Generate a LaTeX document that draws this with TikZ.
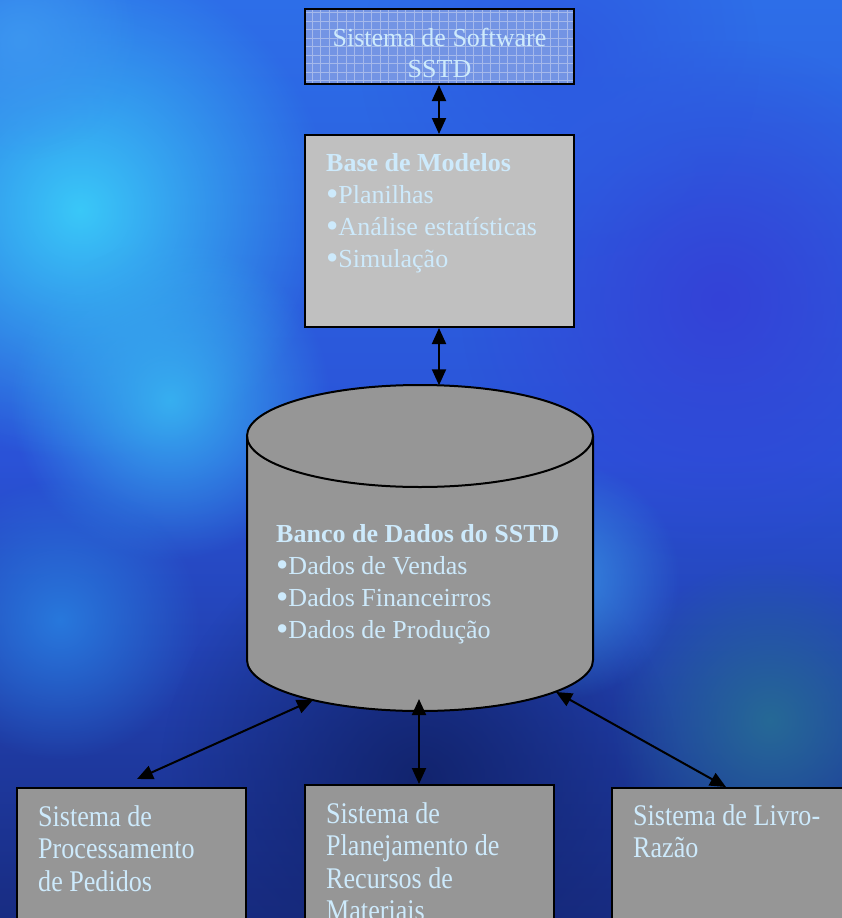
\documentclass[tikz,border=0pt]{standalone}
\usepackage{fontspec}
\setmainfont{Liberation Serif}
\newfontfamily\condfont[FakeStretch=0.87]{Liberation Serif}
\usetikzlibrary{arrows.meta,fadings}
\tikzfading[name=fuzzy, inner color=transparent!0, outer color=transparent!100]
\definecolor{txt}{RGB}{205,234,252}
\definecolor{swfill}{RGB}{115,148,228}
\definecolor{swgrid}{RGB}{165,185,235}
\definecolor{bmfill}{RGB}{192,192,192}
\definecolor{dbfill}{RGB}{150,150,150}
\definecolor{sysfill}{RGB}{150,150,150}
\newcommand{\bul}{\raisebox{-0.1em}{\scalebox{1.35}{•}}}
\begin{document}
\begin{tikzpicture}[x=1pt,y=-1pt,
  boxstyle/.style={draw=black, line width=2pt, inner sep=0pt},
  txtnode/.style={text=txt, inner sep=0pt, align=left, font=\fontsize{26}{32}\selectfont},
  systxt/.style={text=txt, inner sep=0pt, align=left, font=\condfont\fontsize{30}{32.5}\selectfont},
  biarrow/.style={{Triangle[length=16pt,width=14pt]}-{Triangle[length=16pt,width=14pt]}, line width=2pt, draw=black},
  blob/.style={path fading=fuzzy}
]
\useasboundingbox (0,0) rectangle (842,918);
\clip (0,0) rectangle (842,918);
% background
\shade[top color={rgb,255:red,45;green,110;blue,232}, bottom color={rgb,255:red,24;green,44;blue,130}, middle color={rgb,255:red,42;green,82;blue,215}] (0,0) rectangle (842,918);
\fill[blob, color={rgb,255:red,58;green,200;blue,248}] (80,210) circle[radius=250];
\fill[blob, color={rgb,255:red,55;green,175;blue,240}] (170,400) circle[radius=160];
\fill[blob, color={rgb,255:red,60;green,150;blue,240}] (20,40) circle[radius=120];
\fill[blob, color={rgb,255:red,52;green,66;blue,215}] (720,300) circle[radius=260];
\fill[blob, color={rgb,255:red,45;green,90;blue,225}] (560,60) circle[radius=200];
\fill[blob, color={rgb,255:red,18;green,36;blue,110}] (420,780) circle[radius=260];
\fill[blob, color={rgb,255:red,38;green,105;blue,150}] (770,720) circle[radius=160];
\fill[blob, color={rgb,255:red,55;green,140;blue,225}] (560,580) circle[radius=120];
\fill[blob, color={rgb,255:red,40;green,120;blue,220}] (60,620) circle[radius=140];

% top box: Sistema de Software
\node[boxstyle, fill=swfill, minimum width=269pt, minimum height=75pt,
  path picture={\draw[swgrid, line width=0.6pt, step=8.5pt] (path picture bounding box.south west) grid (path picture bounding box.north east);}]
  (sw) at (439.5,46.5) {};
\node[txtnode, align=center, anchor=base, font=\fontsize{26}{31}\selectfont] (swtext) at (439.5,77) {Sistema de Software\\SSTD};

% Base de Modelos
\node[boxstyle, fill=bmfill, minimum width=269pt, minimum height=192pt] (bm) at (439.5,231) {};
\node[txtnode, anchor=base west] (bmtext) at (326,267) {\textbf{Base de Modelos}\\\bul Planilhas\\\bul Análise estatísticas\\\bul Simulação};

% Cylinder: Banco de Dados
\fill[dbfill] (247,436) -- (247,660) arc[start angle=180, end angle=0, x radius=173, y radius=51] -- (593,436) arc[start angle=0, end angle=-180, x radius=173, y radius=51] -- cycle;
\draw[line width=2pt] (247,436) -- (247,660) arc[start angle=180, end angle=0, x radius=173, y radius=51] -- (593,436);
\draw[line width=2pt] (420,436) ellipse[x radius=173, y radius=51];
\coordinate (dbtop) at (439,385.3);
\coordinate (dbl) at (313,700);
\coordinate (dbm) at (419,699);
\coordinate (dbr) at (556,692);
\node[txtnode, anchor=base west] (dbtext) at (276,638) {\textbf{Banco de Dados do SSTD}\\\bul Dados de Vendas\\\bul Dados Financeirros\\\bul Dados de Produção};

% bottom systems
\node[boxstyle, fill=sysfill, minimum width=229pt, minimum height=170pt] (s1) at (131.5,873) {};
\node[boxstyle, fill=sysfill, minimum width=249pt, minimum height=170pt] (s2) at (429.5,870) {};
\node[boxstyle, fill=sysfill, minimum width=250pt, minimum height=170pt] (s3) at (737,873) {};
\node[systxt, anchor=base west] (s1text) at (38,891) {Sistema de\\Processamento\\de Pedidos};
\node[systxt, anchor=base west] (s2text) at (326,920.5) {Sistema de\\Planejamento de\\Recursos de\\Materiais};
\node[systxt, anchor=base west] (s3text) at (633,857.5) {Sistema de Livro-\\Razão};
\coordinate (s1end) at (137,779);
\coordinate (s3end) at (726,787);

% connectors
\draw[biarrow] (sw.south -| dbtop) -- (bm.north -| dbtop);
\draw[biarrow] (bm.south -| dbtop) -- (dbtop);
\draw[biarrow] (dbl) -- (s1end);
\draw[biarrow] (dbm) -- (dbm |- s2.north);
\draw[biarrow] (dbr) -- (s3end);
\end{tikzpicture}
\end{document}
